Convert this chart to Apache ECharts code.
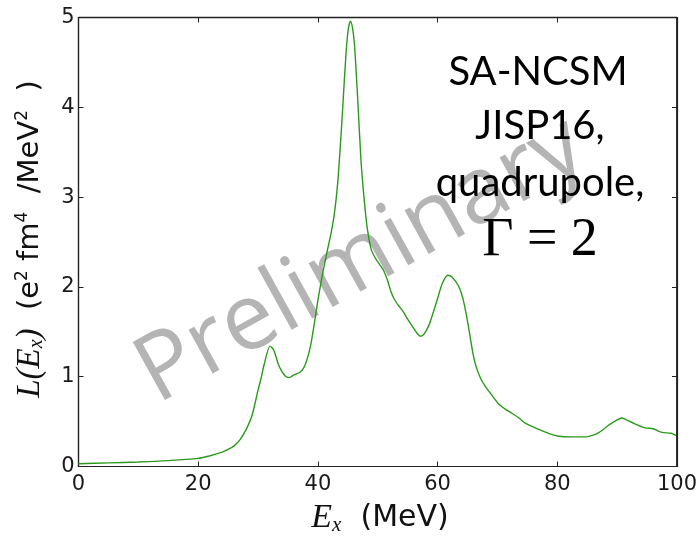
<!DOCTYPE html>
<html>
<head>
<meta charset="utf-8">
<script src="https://cdn.jsdelivr.net/npm/echarts@6/dist/echarts.min.js"></script>
<style>html,body{margin:0;padding:0;background:#fff}#c{width:700px;height:538px}</style>
</head>
<body>
<div id="c"></div>
<script>
// Energy E_x (MeV)
var energies = [0,5,10,15,20,22,24,25,26,27,28,29,30,30.5,31,32,32.6,33.5,34.5,35.2,36,37,37.8,38.7,39.4,40,40.8,41.5,42.2,42.75,43.3,43.8,44.2,44.7,45.1,45.45,45.8,46.1,46.6,47.2,47.7,48.2,48.9,49.6,50.3,51.0,51.6,52.2,52.8,53.5,54.3,55,55.8,56.5,57.2,57.8,58.6,59.3,60.0,60.8,61.7,62.4,63.5,64.2,65,65.8,66.4,67.2,68,69,70.3,71.5,72.5,73.6,74.7,76,77,78.5,80,82.5,84.7,86,87,88.6,90,90.8,91.5,92.5,93.5,94.7,96,97.5,99,100];
// Response L(E_x) (e^2 fm^4 / MeV^2)
var response = [0.03,0.04,0.05,0.065,0.09,0.12,0.16,0.19,0.23,0.30,0.41,0.57,0.85,0.98,1.13,1.34,1.30,1.12,1.01,0.99,1.02,1.05,1.12,1.32,1.59,1.85,2.15,2.38,2.60,2.81,3.15,3.62,4.05,4.60,4.88,4.96,4.88,4.71,4.16,3.41,3.00,2.68,2.42,2.32,2.25,2.18,2.08,1.95,1.86,1.79,1.72,1.64,1.56,1.49,1.45,1.48,1.58,1.72,1.87,2.04,2.13,2.11,2.01,1.88,1.62,1.30,1.12,0.98,0.89,0.80,0.69,0.63,0.59,0.54,0.48,0.44,0.41,0.37,0.34,0.33,0.33,0.35,0.38,0.46,0.52,0.54,0.52,0.49,0.46,0.43,0.42,0.38,0.37,0.34];
var xTicks = [0,20,40,60,80,100];
var yTicks = [0,1,2,3,4,5];
var annotation = ['SA-NCSM','JISP16,','quadrupole,'];

var chart = echarts.init(document.getElementById('c'), null, {renderer:'canvas'});
var pts = energies.map(function(e,i){return [e,response[i]];});
var axisCol = '#222';
var tickFont = {fontFamily:'DejaVu Sans', fontSize:21, color:'#1a1a1a'};
function baseAxis(){
  return {
    gridIndex:0,
    axisLine:{show:true,onZero:false,lineStyle:{color:axisCol,width:1.2}},
    axisTick:{show:true,inside:true,length:5,lineStyle:{color:axisCol,width:1}},
    splitLine:{show:false}
  };
}
var xa = Object.assign(baseAxis(), {type:'value',min:0,max:100,interval:20,position:'bottom',
  axisLabel:Object.assign({margin:8,formatter:function(v){return xTicks.indexOf(v)>=0?String(v):'';}},tickFont)});
var xa2 = Object.assign(baseAxis(), {type:'value',min:0,max:100,interval:20,position:'top',axisLabel:{show:false}});
var ya = Object.assign(baseAxis(), {type:'value',min:0,max:5,interval:1,position:'left',
  axisLabel:Object.assign({margin:4,formatter:function(v){return yTicks.indexOf(v)>=0?String(v):'';}},tickFont)});
var ya2 = Object.assign(baseAxis(), {type:'value',min:0,max:5,interval:1,position:'right',axisLabel:{show:false}});

var graphics = [
  {type:'text', id:'wm', z:0, x:361, y:261, rotation:29*Math.PI/180,
   style:{text:'Preliminary', fontFamily:'Open Sans', fontSize:93, fill:'#b4b4b4', align:'center', verticalAlign:'middle'}},
  {type:'text', z:100, x:538, y:72, style:{text:annotation[0], fontFamily:'Lato', fontSize:40, fill:'#000', align:'center', verticalAlign:'middle'}},
  {type:'text', z:100, x:540, y:126, style:{text:annotation[1], fontFamily:'Lato', fontSize:40, fill:'#000', align:'center', verticalAlign:'middle'}},
  {type:'text', z:100, x:540, y:183, style:{text:annotation[2], fontFamily:'Lato', fontSize:40, fill:'#000', align:'center', verticalAlign:'middle'}},
  {type:'text', z:100, x:540, y:241, style:{text:'Γ = 2', fontFamily:'Liberation Serif', fontSize:54, fill:'#000', align:'center', verticalAlign:'middle'}},
  {type:'text', z:100, x:380, y:518, style:{
    text:'{m|E}{s|x}{n|  (MeV)}', align:'center', verticalAlign:'middle',
    rich:{m:{fontFamily:'Liberation Serif',fontStyle:'italic',fontSize:34,fill:'#111'},
          s:{fontFamily:'Liberation Serif',fontStyle:'italic',fontSize:21,fill:'#111',padding:[14,0,0,0]},
          n:{fontFamily:'DejaVu Sans',fontSize:30,fill:'#111'}}}},
  {type:'text', z:100, x:30, y:239, rotation:Math.PI/2, style:{
    text:'{m|L(E}{s|x}{m|)}{n|  (e}{p|2}{n| fm}{p|4}{n|  /MeV}{p|2}{n|  )}', align:'center', verticalAlign:'middle',
    rich:{m:{fontFamily:'Liberation Serif',fontStyle:'italic',fontSize:33,fill:'#111'},
          s:{fontFamily:'Liberation Serif',fontStyle:'italic',fontSize:20,fill:'#111',padding:[14,0,0,0]},
          n:{fontFamily:'DejaVu Sans',fontSize:29,fill:'#111'},
          p:{fontFamily:'DejaVu Sans',fontSize:17,fill:'#111',padding:[0,0,14,0]}}}}
];

chart.setOption({
  animation:false,
  backgroundColor:'#fff',
  grid:{left:78.5,right:21.5,top:17.5,bottom:71.5,containLabel:false,show:true,borderColor:axisCol,borderWidth:1.2},
  xAxis:[xa,xa2],
  yAxis:[ya,ya2],
  graphic:graphics,
  series:[
    {type:'line',xAxisIndex:0,yAxisIndex:0,data:pts,showSymbol:false,smooth:0.25,z:5,
     lineStyle:{color:'#2b9a1c',width:1.4}}
  ]
});

// plot frame (top and right edges) from the axis scales, on its own layer
var tl = chart.convertToPixel({xAxisIndex:0,yAxisIndex:0},[xTicks[0],yTicks[yTicks.length-1]]);
var br = chart.convertToPixel({xAxisIndex:0,yAxisIndex:0},[xTicks[xTicks.length-1],yTicks[0]]);
if (tl && br && isFinite(tl[0]) && isFinite(br[0])) {
  chart.setOption({graphic:[
    {type:'line', id:'frameTop', zlevel:1, z:90, silent:true,
     shape:{x1:tl[0], y1:tl[1], x2:br[0], y2:tl[1]}, style:{stroke:axisCol, lineWidth:1.4}},
    {type:'line', id:'frameRight', zlevel:1, z:90, silent:true,
     shape:{x1:br[0], y1:tl[1], x2:br[0], y2:br[1]}, style:{stroke:axisCol, lineWidth:1.4}}
  ]});
}
</script>
</body>
</html>
